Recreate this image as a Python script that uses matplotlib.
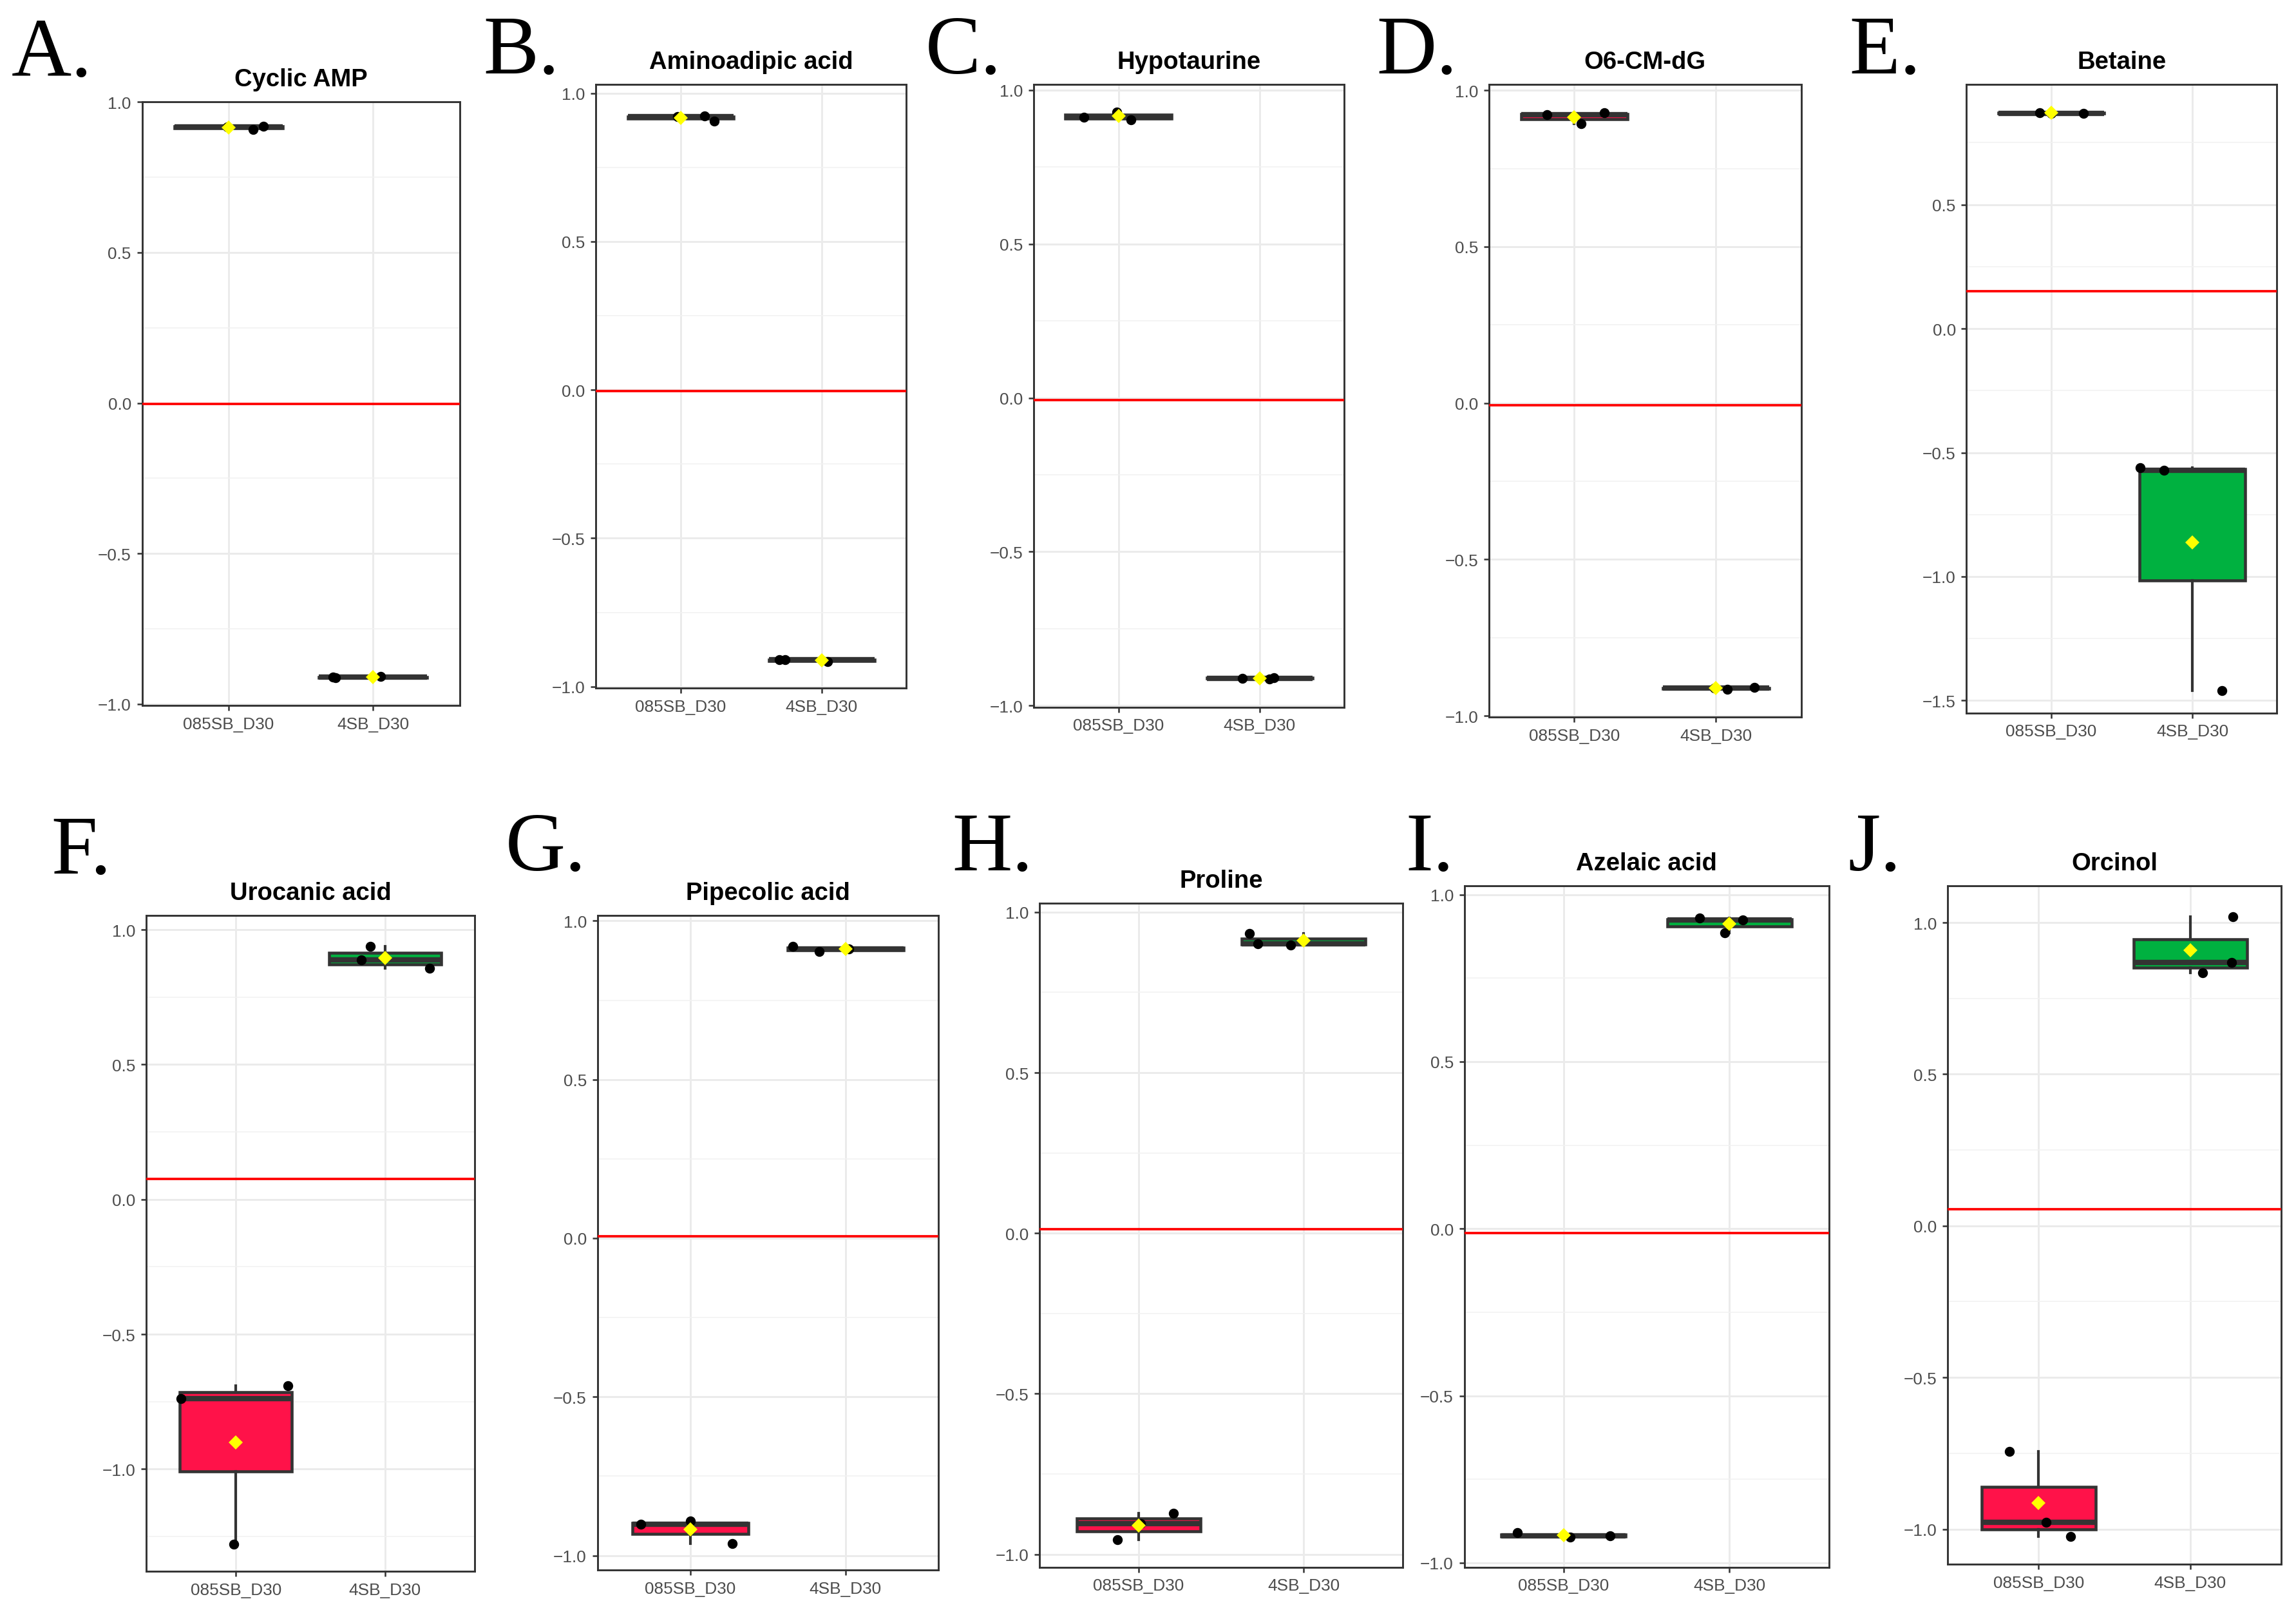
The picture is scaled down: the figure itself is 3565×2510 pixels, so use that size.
import numpy as np
import matplotlib
matplotlib.use("Agg")
import matplotlib.pyplot as plt
from matplotlib.ticker import MultipleLocator, FuncFormatter

# ----------------------
# Data
# ----------------------
panel_labels = ["A.", "B.", "C.", "D.", "E.", "F.", "G.", "H.", "I.", "J."]
titles = ["Cyclic AMP", "Aminoadipic acid", "Hypotaurine", "O6-CM-dG", "Betaine",
          "Urocanic acid", "Pipecolic acid", "Proline", "Azelaic acid", "Orcinol"]
groups = ["085SB_D30", "4SB_D30"]

vals_085 = [
    [0.918, 0.908, 0.919],
    [0.921, 0.923, 0.907],
    [0.913, 0.929, 0.904],
    [0.921, 0.893, 0.929],
    [0.871, 0.868, 0.869],
    [-0.738, -0.690, -1.278],
    [-0.902, -0.891, -0.963],
    [-0.954, -0.872, -0.904],
    [-0.909, -0.923, -0.920],
    [-0.743, -0.977, -1.025],
]
vals_4sb = [
    [-0.911, -0.912, -0.908],
    [-0.910, -0.909, -0.916],
    [-0.912, -0.913, -0.909],
    [-0.915, -0.910, -0.911],
    [-0.560, -0.571, -1.460],
    [0.889, 0.939, 0.856],
    [0.920, 0.904, 0.912],
    [0.933, 0.902, 0.898],
    [0.929, 0.886, 0.923],
    [0.835, 0.869, 1.019],
]
# horizontal jitter of the points (as seen in the picture)
jit_085 = [
    [-0.01, 0.17, 0.24],
    [-0.02, 0.17, 0.24],
    [-0.245, -0.01, 0.09],
    [-0.19, 0.05, 0.21],
    [-0.08, 0.23, 0.0],
    [-0.37, 0.35, -0.015],
    [-0.32, 0.0, 0.27],
    [-0.13, 0.21, 0.01],
    [-0.28, 0.04, 0.28],
    [-0.19, 0.05, 0.21],
]
jit_4sb = [
    [-0.28, -0.26, 0.05],
    [-0.30, -0.26, 0.04],
    [-0.12, 0.07, 0.10],
    [0.08, 0.27, -0.01],
    [-0.37, -0.20, 0.21],
    [-0.16, -0.10, 0.30],
    [-0.34, -0.17, 0.02],
    [-0.33, -0.28, -0.08],
    [-0.18, -0.03, 0.08],
    [0.08, 0.27, 0.28],
]
thresholds = [-0.003, -0.003, -0.008, -0.008, 0.15, 0.075, 0.007, 0.013, -0.014, 0.055]
ylims = [(-1.005, 1.0), (-1.005, 1.03), (-1.005, 1.019), (-1.005, 1.019), (-1.55, 0.985),
         (-1.38, 1.054), (-1.046, 1.018), (-1.04, 1.027), (-1.013, 1.026), (-1.116, 1.121)]

# ----------------------
# Layout (in px of a 1568 x 1104 view)
# ----------------------
W, H = 1568.0, 1104.0
axes_px = [(97, 70, 314, 482), (407, 58, 619, 470), (706, 58, 918, 483),
           (1017, 58, 1230, 490), (1343, 58, 1555, 487),
           (100, 625, 324, 1073), (408, 625, 641, 1072), (710, 617, 958, 1070),
           (1000, 605, 1249, 1070), (1330, 605, 1558, 1068)]
label_px = [(8, 52), (330, 50), (632, 50), (940, 50), (1263, 50),
            (35, 596), (345, 594), (650, 594), (960, 594), (1262, 594)]

fill_cols = ["#FF1249", "#00B140"]
edge = "#333333"

plt.rcParams["font.family"] = ["Liberation Sans", "DejaVu Sans"]

fig = plt.figure(figsize=(3565 / 300, 2511 / 300), dpi=300)


def fmt(v, pos):
    s = "%.1f" % v
    if s == "-0.0":
        s = "0.0"
    return s.replace("-", "\u2212")


for i in range(10):
    l, t, r, b = axes_px[i]
    ax = fig.add_axes([l / W, 1 - b / H, (r - l) / W, (b - t) / H])
    data = [vals_085[i], vals_4sb[i]]

    bp = ax.boxplot(data, positions=[1, 2], widths=0.75, patch_artist=True,
                    showcaps=False, showfliers=False, whis=1.5,
                    boxprops=dict(edgecolor=edge, linewidth=1.1),
                    whiskerprops=dict(color=edge, linewidth=1.0),
                    medianprops=dict(color=edge, linewidth=2.0),
                    zorder=2)
    for patch, c in zip(bp["boxes"], fill_cols):
        patch.set_facecolor(c)

    ax.axhline(thresholds[i], color="#FF0000", lw=0.9, zorder=3)

    for k, (v, j) in enumerate([(vals_085[i], jit_085[i]), (vals_4sb[i], jit_4sb[i])]):
        xs = np.array(j) + k + 1
        ax.plot(xs, v, "o", color="black", ms=2.7, zorder=4)
        ax.plot([k + 1], [np.mean(v)], "D", color="#FFFF00", ms=3.7,
                markeredgewidth=0, zorder=5)

    ax.set_xlim(0.4, 2.6)
    ax.set_ylim(*ylims[i])
    ax.set_xticks([1, 2])
    ax.set_xticklabels(groups)
    ax.yaxis.set_major_locator(MultipleLocator(0.5))
    ax.yaxis.set_minor_locator(MultipleLocator(0.25))
    ax.yaxis.set_major_formatter(FuncFormatter(fmt))
    ax.set_axisbelow(True)
    ax.grid(which="major", color="#EBEBEB", lw=0.7)
    ax.grid(which="minor", axis="y", color="#F2F2F2", lw=0.4)
    ax.tick_params(axis="both", which="major", length=2, width=0.6, color=edge,
                   labelcolor="#4D4D4D", labelsize=6.3, pad=2)
    ax.tick_params(axis="y", which="minor", length=0)
    for sp in ax.spines.values():
        sp.set_color(edge)
        sp.set_linewidth(0.7)
    ax.set_title(titles[i], fontsize=9.2, fontweight="bold", pad=6)

    lx, ly = label_px[i]
    fig.text(lx / W, 1 - ly / H, panel_labels[i], fontsize=31,
             family=["Liberation Serif", "DejaVu Serif"], ha="left", va="baseline")

fig.savefig("out.png", dpi=300, facecolor="white")
